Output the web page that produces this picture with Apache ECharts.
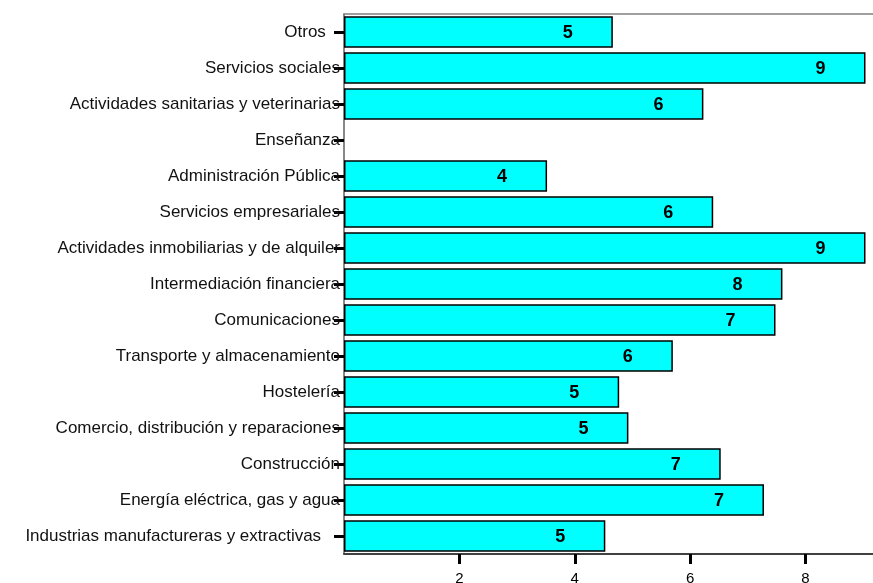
<!DOCTYPE html>
<html>
<head>
<meta charset="utf-8">
<script src="https://cdn.jsdelivr.net/npm/echarts@6/dist/echarts.min.js"></script>
<style>
html,body{margin:0;padding:0;background:#fff;}
#chart{width:873px;height:583px;}
</style>
</head>
<body>
<div id="chart"></div>
<script>
// Categories listed top to bottom
var categories = [
  "Otros   ",
  "Servicios sociales",
  "Actividades sanitarias y veterinarias",
  "Enseñanza",
  "Administración Pública",
  "Servicios empresariales",
  "Actividades inmobiliarias y de alquiler",
  "Intermediación financiera",
  "Comunicaciones",
  "Transporte y almacenamiento",
  "Hostelería",
  "Comercio, distribución y reparaciones",
  "Construcción",
  "Energía eléctrica, gas y agua",
  "Industrias manufactureras y extractivas    "
];
var values = [4.66, 9.04, 6.23, null, 3.52, 6.40, 9.04, 7.60, 7.48, 5.70, 4.77, 4.93, 6.53, 7.28, 4.53];
var barLabels = ["5", "9", "6", "", "4", "6", "9", "8", "7", "6", "5", "5", "7", "7", "5"];
var xTicks = [2, 4, 6, 8];

var chart = echarts.init(document.getElementById('chart'), null, {renderer: 'canvas'});
chart.setOption({
  animation: false,
  backgroundColor: '#fff',
  grid: {
    left: 344, right: 0, top: 14, bottom: 29,
    show: false,
    containLabel: false,
    outerBoundsMode: 'none'
  },
  xAxis: [{
    type: 'value',
    min: 0, max: 9.17,
    splitLine: {show: false},
    axisLine: {show: true, lineStyle: {color: '#404040', width: 2}},
    axisTick: {show: true, customValues: xTicks, length: 10, inside: false, lineStyle: {color: '#000', width: 3}},
    axisLabel: {customValues: xTicks, fontFamily: 'Liberation Sans, Arial', fontSize: 15, color: '#000', margin: 17}
  }, {
    type: 'value',
    position: 'top',
    min: 0, max: 9.17,
    splitLine: {show: false},
    axisLine: {show: true, lineStyle: {color: '#808080', width: 1.5}},
    axisTick: {show: false},
    axisLabel: {show: false}
  }],
  yAxis: {
    type: 'category',
    inverse: true,
    data: categories,
    axisLine: {show: true, lineStyle: {color: '#606060', width: 1.5}},
    axisTick: {show: true, alignWithLabel: true, length: 10, inside: false, lineStyle: {color: '#000', width: 3}},
    axisLabel: {fontFamily: 'Liberation Sans, Arial', fontSize: 17, color: '#111', margin: 4}
  },
  series: [{
    type: 'bar',
    xAxisIndex: 0,
    data: values,
    barCategoryGap: '13%',
    itemStyle: {color: '#00FFFF', borderColor: '#000', borderWidth: 1.5},
    label: {
      show: true,
      position: 'insideRight',
      distance: 40,
      offset: [0, 1],
      fontFamily: 'Liberation Sans, Arial',
      fontWeight: 'bold',
      fontSize: 18,
      color: '#000',
      formatter: function (p) { return barLabels[p.dataIndex]; }
    }
  }]
});
</script>
</body>
</html>
